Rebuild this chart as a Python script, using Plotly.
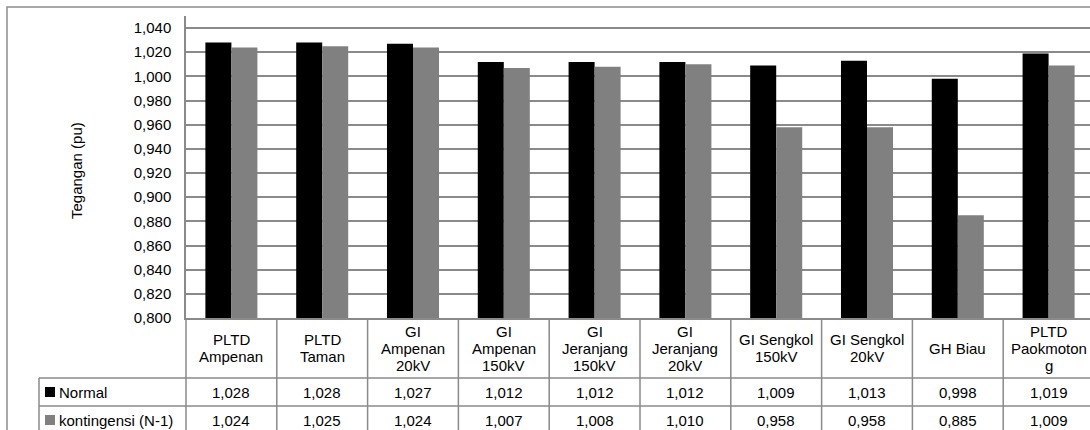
import plotly.graph_objects as go

categories = ["PLTD Ampenan", "PLTD Taman", "GI Ampenan 20kV", "GI Ampenan 150kV",
              "GI Jeranjang 150kV", "GI Jeranjang 20kV", "GI Sengkol 150kV",
              "GI Sengkol 20kV", "GH Biau", "PLTD Paokmotong"]
header_lines = [["PLTD", "Ampenan"], ["PLTD", "Taman"], ["GI", "Ampenan", "20kV"],
                ["GI", "Ampenan", "150kV"], ["GI", "Jeranjang", "150kV"],
                ["GI", "Jeranjang", "20kV"], ["GI Sengkol", "150kV"],
                ["GI Sengkol", "20kV"], ["GH Biau"], ["PLTD", "Paokmoton", "g"]]
normal = [1.028, 1.028, 1.027, 1.012, 1.012, 1.012, 1.009, 1.013, 0.998, 1.019]
kontingensi = [1.024, 1.025, 1.024, 1.007, 1.008, 1.010, 0.958, 0.958, 0.885, 1.009]
series_names = ["Normal", "kontingensi (N-1)"]
series_colors = ["#000000", "#808080"]
y_title = "Tegangan (pu)"

W, H = 1090, 430
L, T, B = 186, 16, 112
PW, PH = W - L, H - T - B
XMAX = 9.456
FONT = "Liberation Sans, Arial, sans-serif"
FS = 15
GRID = "#8a8a8a"
LW = 1.5

def px_x(px):
    return (px - L) / PW

def px_y(py):
    return (H - B - py) / PH

fig = go.Figure()
for name, vals, col in zip(series_names, [normal, kontingensi], series_colors):
    fig.add_trace(go.Bar(x=categories, y=vals, name=name,
                         marker=dict(color=col, line=dict(width=0))))

shapes = []
annotations = []
# outer chart border
shapes.append(dict(type="rect", xref="paper", yref="paper",
                   x0=px_x(7), x1=px_x(W + 20), y0=px_y(H + 20), y1=px_y(7),
                   line=dict(color="#8c8c8c", width=LW), fillcolor="rgba(0,0,0,0)"))
# table lines
shapes.append(dict(type="line", xref="paper", yref="paper",
                   x0=0, x1=0, y0=px_y(318), y1=px_y(H + 10),
                   line=dict(color=GRID, width=LW)))
for k in range(1, len(categories)):
    shapes.append(dict(type="line", xref="x", yref="paper",
                       x0=k - 0.5, x1=k - 0.5, y0=px_y(318), y1=px_y(H + 10),
                       line=dict(color=GRID, width=LW)))
for py in (378, 406):
    shapes.append(dict(type="line", xref="paper", yref="paper",
                       x0=px_x(39), x1=px_x(W + 10), y0=px_y(py), y1=px_y(py),
                       line=dict(color=GRID, width=LW)))
shapes.append(dict(type="line", xref="paper", yref="paper",
                   x0=px_x(39), x1=px_x(39), y0=px_y(378), y1=px_y(H + 10),
                   line=dict(color=GRID, width=LW)))

# header labels
for cat, lines in zip(categories, header_lines):
    n = len(lines)
    for i, t in enumerate(lines):
        cy = 348 + (i - (n - 1) / 2) * 17
        annotations.append(dict(x=cat, xref="x", y=px_y(cy), yref="paper",
                                text=t, showarrow=False, xanchor="center",
                                yanchor="middle", font=dict(size=FS, color="black", family=FONT)))

# value rows
row_centers = [392, 420]
for name, vals, col, cy in zip(series_names, [normal, kontingensi], series_colors, row_centers):
    shapes.append(dict(type="rect", xref="paper", yref="paper",
                       x0=px_x(45), x1=px_x(55), y0=px_y(cy + 5), y1=px_y(cy - 5),
                       fillcolor=col, line=dict(width=0)))
    annotations.append(dict(x=px_x(56.5), xref="paper", y=px_y(cy), yref="paper",
                            text=name, showarrow=False, xanchor="left", yanchor="middle",
                            font=dict(size=FS, color="black", family=FONT)))
    for cat, v in zip(categories, vals):
        annotations.append(dict(x=cat, xref="x", y=px_y(cy), yref="paper",
                                text=f"{v:.3f}".replace(".", ","), showarrow=False,
                                xanchor="center", yanchor="middle",
                                font=dict(size=FS, color="black", family=FONT)))

# y axis title
annotations.append(dict(x=px_x(76), xref="paper", y=px_y(171), yref="paper",
                        text=y_title, textangle=-90, showarrow=False,
                        xanchor="center", yanchor="middle",
                        font=dict(size=FS, color="black", family=FONT)))

fig.update_layout(
    width=W, height=H,
    margin=dict(l=L, r=0, t=T, b=B, pad=0),
    paper_bgcolor="white", plot_bgcolor="white",
    barmode="group", bargap=0.427, bargroupgap=0,
    showlegend=False,
    separators=",.",
    font=dict(family=FONT, size=FS, color="black"),
    shapes=shapes, annotations=annotations,
    xaxis=dict(range=[-0.5, XMAX], showticklabels=False, showgrid=False,
               showline=True, linecolor=GRID, linewidth=LW, ticks="", zeroline=False,
               fixedrange=True),
    yaxis=dict(range=[0.8, 1.05], tick0=0.8, dtick=0.02, tickformat=".3f",
               showgrid=True, gridcolor=GRID, gridwidth=LW,
               showline=True, linecolor=GRID, linewidth=LW, ticks="",
               ticklabelstandoff=10, zeroline=False, fixedrange=True,
               tickfont=dict(size=FS, color="black", family=FONT)),
)

fig.write_html("out.html", config={"displayModeBar": False})
